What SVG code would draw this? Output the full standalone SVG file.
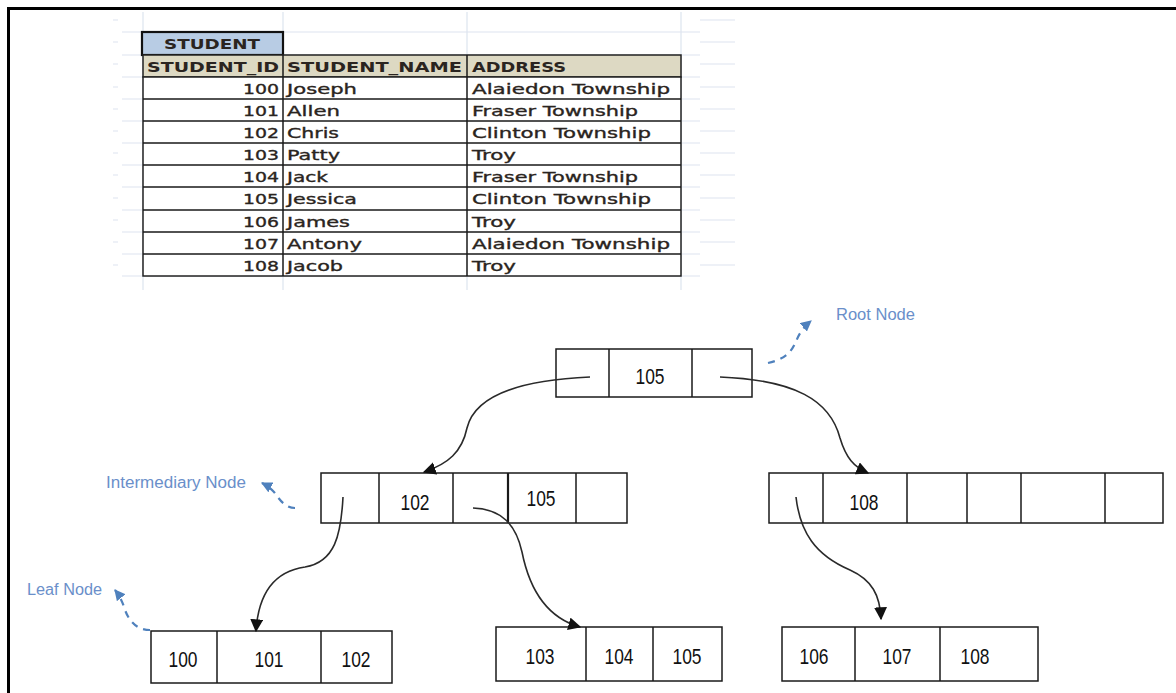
<svg xmlns="http://www.w3.org/2000/svg" width="1176" height="693" viewBox="0 0 1176 693">
<defs>
<style>
.grid{stroke:#dde4ef;stroke-width:1.2;fill:none}
.cell{fill:#fff;stroke:#222;stroke-width:1.5}
.tb{font-family:"DejaVu Sans",Verdana,sans-serif;font-size:14.5px;fill:#2a2420;stroke:#2a2420;stroke-width:0.35}
.th{font-family:"DejaVu Sans",Verdana,sans-serif;font-size:14.5px;font-weight:bold;fill:#2a2420}
.box{fill:#fff;stroke:#1a1a1a;stroke-width:1.5}
.div{stroke:#1a1a1a;stroke-width:1.5}
.num{font-family:"Liberation Sans",Arial,sans-serif;font-size:22px;fill:#111;text-anchor:middle}
.lbl{font-family:"Liberation Sans",Arial,sans-serif;font-size:16px;fill:#6a8fca}
.conn{fill:none;stroke:#2a2a2a;stroke-width:1.6}
.dash{fill:none;stroke:#4f81bd;stroke-width:2.2;stroke-dasharray:7,6}
</style>
<marker id="ah" viewBox="0 0 10 10" refX="9" refY="5" markerWidth="13" markerHeight="13" markerUnits="userSpaceOnUse" orient="auto">
<path d="M0,0 L10,5 L0,10 z" fill="#111"/>
</marker>
<marker id="ahb" viewBox="0 0 10 10" refX="9" refY="5" markerWidth="11" markerHeight="11" markerUnits="userSpaceOnUse" orient="auto">
<path d="M0,0 L10,5 L0,10 z" fill="#4f81bd"/>
</marker>
</defs>
<rect width="1176" height="693" fill="#fff"/>
<!-- frame -->
<path d="M7,8.5 H1176 M8.5,7 V693" stroke="#000" stroke-width="3" fill="none"/>

<!-- spreadsheet gridlines -->
<g id="gridlines">
<path class="grid" d="M143,12 V290 M283,12 V290 M467,12 V290 M681,12 V290"/>
<path class="grid" d="M122,32 H700 M122,55 H700 M122,77 H700 M122,99 H700 M122,121 H700 M122,143 H700 M122,165 H700 M122,187 H700 M122,210 H700 M122,232 H700 M122,254 H700 M122,276 H700"/>
<path class="grid" stroke-width="1.5" d="M700,20 H735 M700,42 H735 M700,64 H735 M700,87 H735 M700,109 H735 M700,131 H735 M700,153 H735 M700,175 H735 M700,198 H735 M700,220 H735 M700,242 H735 M700,265 H735"/>
<path class="grid" stroke-width="1.5" d="M113,20 H118 M113,42 H118 M113,64 H118 M113,87 H118 M113,109 H118 M113,131 H118 M113,153 H118 M113,175 H118 M113,198 H118 M113,220 H118 M113,242 H118 M113,265 H118"/>
</g>

<!-- student table -->
<g id="student-table">
<rect x="142" y="32" width="141" height="23" fill="#b8cce4" stroke="#111" stroke-width="2.2"/>
<text class="th" x="164" y="49" textLength="96" lengthAdjust="spacingAndGlyphs">STUDENT</text>
<rect x="143" y="55" width="538" height="22" fill="#ddd9c3" stroke="#222" stroke-width="1.5"/>
<rect class="cell" x="143" y="77" width="538" height="199"/>
<path class="div" d="M143,99 H681 M143,121 H681 M143,143 H681 M143,165 H681 M143,187 H681 M143,210 H681 M143,232 H681 M143,254 H681 M283,55 V276 M467,55 V276" stroke="#222"/>
<text class="th" x="147" y="72" textLength="132" lengthAdjust="spacingAndGlyphs">STUDENT_ID</text>
<text class="th" x="287" y="72" textLength="175" lengthAdjust="spacingAndGlyphs">STUDENT_NAME</text>
<text class="th" x="472" y="72" textLength="94" lengthAdjust="spacingAndGlyphs">ADDRESS</text>

<g class="tb">
<text x="279" y="94" text-anchor="end" textLength="36" lengthAdjust="spacingAndGlyphs">100</text>
<text x="279" y="116" text-anchor="end" textLength="36" lengthAdjust="spacingAndGlyphs">101</text>
<text x="279" y="138" text-anchor="end" textLength="36" lengthAdjust="spacingAndGlyphs">102</text>
<text x="279" y="160" text-anchor="end" textLength="36" lengthAdjust="spacingAndGlyphs">103</text>
<text x="279" y="182" text-anchor="end" textLength="36" lengthAdjust="spacingAndGlyphs">104</text>
<text x="279" y="204" text-anchor="end" textLength="36" lengthAdjust="spacingAndGlyphs">105</text>
<text x="279" y="227" text-anchor="end" textLength="36" lengthAdjust="spacingAndGlyphs">106</text>
<text x="279" y="249" text-anchor="end" textLength="36" lengthAdjust="spacingAndGlyphs">107</text>
<text x="279" y="271" text-anchor="end" textLength="36" lengthAdjust="spacingAndGlyphs">108</text>

<text x="287" y="94" textLength="70" lengthAdjust="spacingAndGlyphs">Joseph</text>
<text x="287" y="116" textLength="53" lengthAdjust="spacingAndGlyphs">Allen</text>
<text x="287" y="138" textLength="52" lengthAdjust="spacingAndGlyphs">Chris</text>
<text x="287" y="160" textLength="53" lengthAdjust="spacingAndGlyphs">Patty</text>
<text x="287" y="182" textLength="41" lengthAdjust="spacingAndGlyphs">Jack</text>
<text x="287" y="204" textLength="70" lengthAdjust="spacingAndGlyphs">Jessica</text>
<text x="287" y="227" textLength="63" lengthAdjust="spacingAndGlyphs">James</text>
<text x="287" y="249" textLength="75" lengthAdjust="spacingAndGlyphs">Antony</text>
<text x="287" y="271" textLength="56" lengthAdjust="spacingAndGlyphs">Jacob</text>

<text x="472" y="94" textLength="198" lengthAdjust="spacingAndGlyphs">Alaiedon Township</text>
<text x="472" y="116" textLength="166" lengthAdjust="spacingAndGlyphs">Fraser Township</text>
<text x="472" y="138" textLength="179" lengthAdjust="spacingAndGlyphs">Clinton Township</text>
<text x="472" y="160" textLength="44" lengthAdjust="spacingAndGlyphs">Troy</text>
<text x="472" y="182" textLength="166" lengthAdjust="spacingAndGlyphs">Fraser Township</text>
<text x="472" y="204" textLength="179" lengthAdjust="spacingAndGlyphs">Clinton Township</text>
<text x="472" y="227" textLength="44" lengthAdjust="spacingAndGlyphs">Troy</text>
<text x="472" y="249" textLength="198" lengthAdjust="spacingAndGlyphs">Alaiedon Township</text>
<text x="472" y="271" textLength="44" lengthAdjust="spacingAndGlyphs">Troy</text>
</g>
</g>

<!-- root node -->
<g id="root-node">
<rect class="box" x="556" y="349" width="196" height="48"/>
<path class="div" d="M609,349 V397 M692,349 V397"/>
<text class="num" x="650" y="384" textLength="29" lengthAdjust="spacingAndGlyphs">105</text>
</g>

<!-- intermediate node left -->
<g id="intermediate-node-left">
<rect class="box" x="321" y="473" width="306" height="50"/>
<path class="div" d="M379,473 V523 M453,473 V523 M576,473 V523"/>
<path d="M508,473 V523" stroke="#1a1a1a" stroke-width="2.2"/>
<text class="num" x="415" y="510" textLength="29" lengthAdjust="spacingAndGlyphs">102</text>
<text class="num" x="541" y="506" textLength="29" lengthAdjust="spacingAndGlyphs">105</text>
</g>

<!-- intermediate node right -->
<g id="intermediate-node-right">
<rect class="box" x="769" y="473" width="394" height="50"/>
<path class="div" d="M823,473 V523 M907,473 V523 M967,473 V523 M1021,473 V523 M1105,473 V523"/>
<text class="num" x="864" y="510" textLength="29" lengthAdjust="spacingAndGlyphs">108</text>
</g>

<!-- leaf nodes -->
<g id="leaf-1">
<rect class="box" x="151" y="631" width="241" height="52"/>
<path class="div" d="M217,631 V683 M321,631 V683"/>
<text class="num" x="183" y="667" textLength="29" lengthAdjust="spacingAndGlyphs">100</text>
<text class="num" x="269" y="667" textLength="29" lengthAdjust="spacingAndGlyphs">101</text>
<text class="num" x="356" y="667" textLength="29" lengthAdjust="spacingAndGlyphs">102</text>
</g>
<g id="leaf-2">
<rect class="box" x="496" y="627" width="226" height="54"/>
<path class="div" d="M586,627 V681 M653,627 V681"/>
<text class="num" x="540" y="664" textLength="29" lengthAdjust="spacingAndGlyphs">103</text>
<text class="num" x="619" y="664" textLength="29" lengthAdjust="spacingAndGlyphs">104</text>
<text class="num" x="687" y="664" textLength="29" lengthAdjust="spacingAndGlyphs">105</text>
</g>
<g id="leaf-3">
<rect class="box" x="782" y="627" width="256" height="54"/>
<path class="div" d="M855,627 V681 M940,627 V681"/>
<text class="num" x="814" y="664" textLength="29" lengthAdjust="spacingAndGlyphs">106</text>
<text class="num" x="897" y="664" textLength="29" lengthAdjust="spacingAndGlyphs">107</text>
<text class="num" x="975" y="664" textLength="29" lengthAdjust="spacingAndGlyphs">108</text>
</g>

<!-- connectors -->
<g id="connectors">
<path class="conn" marker-end="url(#ah)" d="M590,377 C520,380 475,395 467,428 C462,452 448,464 424,472"/>
<path class="conn" marker-end="url(#ah)" d="M720,377 C795,380 830,400 840,438 C846,458 854,467 868,473"/>
<path class="conn" marker-end="url(#ah)" d="M343,497 C341,535 335,562 305,567 C270,572 258,600 256,631"/>
<path class="conn" marker-end="url(#ah)" d="M473,508 C502,509 516,525 522,552 C530,592 548,618 580,627"/>
<path class="conn" marker-end="url(#ah)" d="M796,497 C800,532 815,555 850,570 C872,580 880,595 881,619"/>
</g>

<!-- labels -->
<g id="label-root">
<path class="dash" marker-end="url(#ahb)" d="M768,363 C790,358 793,348 798,337 C801,331 805,326 811,321"/>
<text class="lbl" x="836" y="320" textLength="79" lengthAdjust="spacingAndGlyphs">Root Node</text>
</g>
<g id="label-intermediary">
<path class="dash" marker-end="url(#ahb)" d="M295,508 C285,508 280,500 274,492 C270,488 266,485 262,483"/>
<text class="lbl" x="106" y="488" textLength="140" lengthAdjust="spacingAndGlyphs">Intermediary Node</text>
</g>
<g id="label-leaf">
<path class="dash" marker-end="url(#ahb)" d="M150,630 C136,630 128,620 124,607 C122,601 119,595 115,590"/>
<text class="lbl" x="27" y="595" textLength="75" lengthAdjust="spacingAndGlyphs">Leaf Node</text>
</g>
</svg>
